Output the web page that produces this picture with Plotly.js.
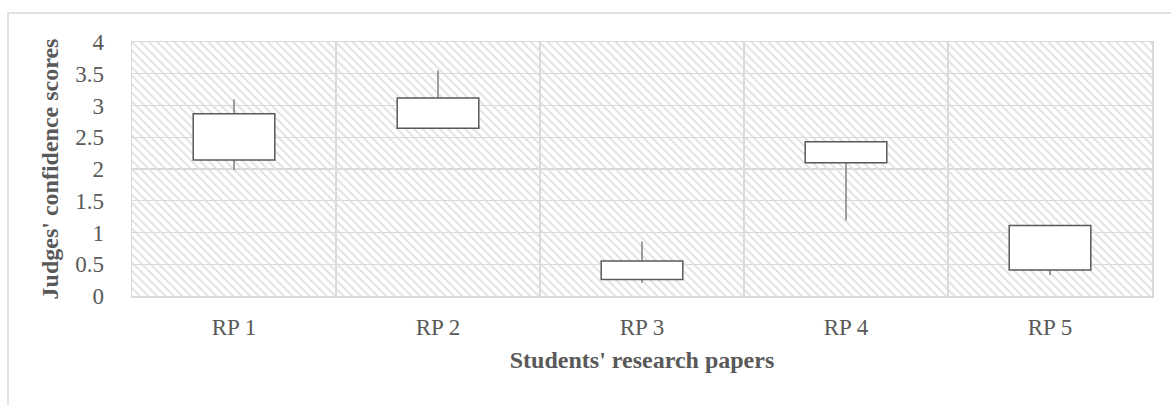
<!DOCTYPE html>
<html>
<head>
<meta charset="utf-8">
<script src="https://cdn.plot.ly/plotly-3.0.1.min.js"></script>
<style>
  html, body { margin: 0; padding: 0; background: #ffffff; }
  #chart { width: 1171px; height: 405px; }
</style>
</head>
<body>
<div id="chart"></div>
<script>
// ---- data ----
const categories = ['RP 1', 'RP 2', 'RP 3', 'RP 4', 'RP 5'];
const openVals  = [2.14, 2.64, 0.26, 2.43, 0.41];   // one edge of up/down bar
const closeVals = [2.87, 3.12, 0.55, 2.10, 1.11];   // other edge of up/down bar
const highVals  = [3.10, 3.55, 0.86, 2.43, 1.11];
const lowVals   = [1.98, 2.64, 0.21, 1.19, 0.33];
const yTicks = [0, 0.5, 1, 1.5, 2, 2.5, 3, 3.5, 4];
const yTickText = ['0', '0.5', '1', '1.5', '2', '2.5', '3', '3.5', '4'];

const positions = categories.map((c, i) => i);
const xRange = [-0.5, categories.length - 0.5];
const yRange = [yTicks[0], yTicks[yTicks.length - 1]];

const boxBottom = openVals.map((v, i) => Math.min(v, closeVals[i]));
const boxHeight = openVals.map((v, i) => Math.abs(closeVals[i] - v));

// high-low lines
const wx = [], wy = [];
positions.forEach((p, i) => { wx.push(p, p, null); wy.push(lowVals[i], highVals[i], null); });

const textColor = '#595959';
const gridColor = '#d9d9d9';
const fontFamily = '"Liberation Serif", "DejaVu Serif", serif';

const traces = [
  { // hatched plot-area background
    type: 'scatter', mode: 'none', xaxis: 'x', yaxis: 'y',
    x: [xRange[0], xRange[1], xRange[1], xRange[0], xRange[0]],
    y: [yRange[0], yRange[0], yRange[1], yRange[1], yRange[0]],
    fill: 'toself', fillcolor: 'rgba(0,0,0,0)',
    fillpattern: { shape: '\\', fgcolor: '#dedede', bgcolor: 'rgba(0,0,0,0)', size: 6, solidity: 0.3 },
    hoverinfo: 'skip', showlegend: false
  },
  { // high-low lines
    type: 'scatter', mode: 'lines', xaxis: 'x', yaxis: 'y', x: wx, y: wy,
    line: { color: '#7f7f7f', width: 1.5 },
    hoverinfo: 'skip', showlegend: false
  },
  { // up/down bars (on overlay axes so they sit above the high-low lines)
    type: 'bar', xaxis: 'x2', yaxis: 'y2', x: positions,
    base: boxBottom, y: boxHeight, width: 0.4,
    marker: { color: '#ffffff', line: { color: '#595959', width: 1.5 } },
    hoverinfo: 'skip', showlegend: false
  }
];

const layout = {
  width: 1171, height: 405,
  margin: { l: 132, r: 19, t: 42, b: 109, pad: 0 },
  paper_bgcolor: '#ffffff', plot_bgcolor: '#ffffff',
  showlegend: false,
  font: { family: fontFamily, color: textColor, size: 23 },
  xaxis: {
    range: xRange, tickmode: 'array', tickvals: positions, ticktext: categories,
    showgrid: false, zeroline: false, ticks: '', ticklabelstandoff: 10,
    showline: true, mirror: true, linecolor: gridColor, linewidth: 1.5,
    minor: { tickmode: 'linear', tick0: -0.5, dtick: 1, showgrid: true, gridcolor: gridColor, gridwidth: 1.3, ticks: '' },
    tickfont: { size: 23, color: textColor, family: fontFamily },
    title: { text: "Students' research papers", font: { size: 24, color: textColor, family: fontFamily, weight: 'bold' }, standoff: 12 }
  },
  yaxis: {
    range: yRange, tickmode: 'array', tickvals: yTicks, ticktext: yTickText,
    showgrid: true, gridcolor: gridColor, gridwidth: 1.3, zeroline: false,
    ticks: '', ticklabelstandoff: 22,
    showline: true, mirror: true, linecolor: gridColor, linewidth: 1.5,
    tickfont: { size: 23, color: textColor, family: fontFamily },
    title: { text: "Judges' confidence scores", font: { size: 24, color: textColor, family: fontFamily, weight: 'bold' }, standoff: 10 }
  },
  xaxis2: { overlaying: 'x', range: xRange, visible: false, showgrid: false, zeroline: false },
  yaxis2: { overlaying: 'y', range: yRange, visible: false, showgrid: false, zeroline: false },
  shapes: [
    { type: 'rect', xref: 'paper', yref: 'paper', layer: 'below',
      x0: (8 - 132) / 1020, x1: (1200 - 132) / 1020, y0: (296 - 430) / 254, y1: (296 - 13) / 254,
      line: { color: gridColor, width: 1.5 }, fillcolor: 'rgba(0,0,0,0)' }
  ]
};

Plotly.newPlot('chart', traces, layout, { displayModeBar: false, staticPlot: true });
</script>
</body>
</html>
